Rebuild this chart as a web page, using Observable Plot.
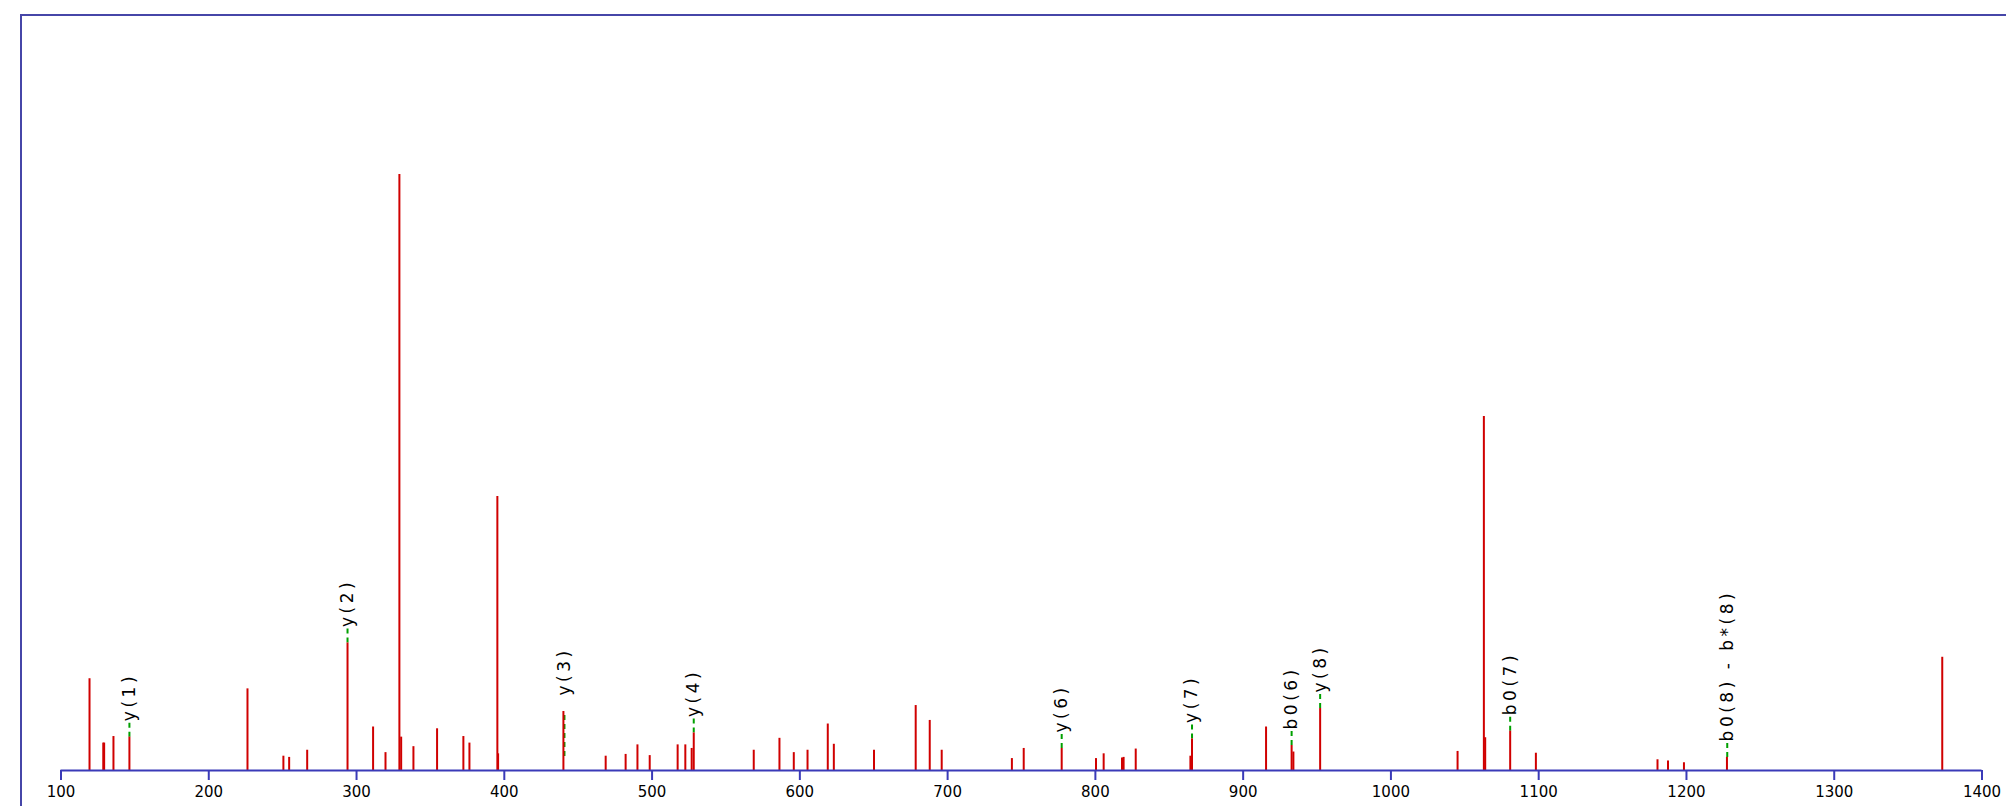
<!DOCTYPE html>
<html>
<head>
<meta charset="utf-8">
<script src="https://cdn.jsdelivr.net/npm/d3@7"></script>
<script src="https://cdn.jsdelivr.net/npm/@observablehq/plot@0.6"></script>
<style>
  html, body { margin: 0; padding: 0; background: #fff; }
  #wrap { position: relative; width: 2006px; height: 806px; overflow: hidden; }
  #frame { position: absolute; left: 20px; top: 14px; right: -4px; bottom: -4px;
           border-top: 2px solid #4646a8; border-left: 2px solid #4646a8; pointer-events: none; }
  #chart svg { display: block; }
</style>
</head>
<body>
<div id="wrap"><div id="chart"></div><div id="frame"></div></div>
<script>
// Observed peaks (m/z) and relative intensities (% of base peak)
const peakMz = [119.3, 128.6, 129.2, 135.5, 146.3, 226.2, 250.5, 254.4, 266.6, 293.9,
  311.2, 319.6, 329.0, 330.2, 338.5, 354.5, 372.3, 376.4, 395.3, 395.8,
  440.0, 468.6, 482.1, 490.1, 498.4, 517.3, 522.5, 526.8, 528.2, 568.8,
  586.2, 595.9, 605.2, 618.9, 623.0, 650.2, 678.4, 687.9, 696.0, 743.5,
  751.5, 777.2, 800.4, 805.6, 818.0, 819.1, 827.3, 864.3, 865.4, 915.5,
  932.8, 934.0, 952.1, 1045.1, 1062.9, 1063.8, 1080.7, 1098.1, 1180.4, 1187.5,
  1198.3, 1227.4, 1373.1];
const peakIntensity = [15.4, 4.6, 4.6, 5.7, 5.6, 13.7, 2.4, 2.2, 3.4, 21.4,
  7.3, 3.0, 100, 5.6, 4.0, 7.0, 5.7, 4.6, 46.0, 2.8,
  9.9, 2.4, 2.7, 4.3, 2.5, 4.3, 4.3, 3.7, 6.3, 3.4,
  5.4, 3.0, 3.4, 7.8, 4.4, 3.4, 10.9, 8.4, 3.4, 2.0,
  3.7, 3.7, 2.0, 2.8, 2.1, 2.2, 3.6, 2.4, 5.3, 7.3,
  4.2, 3.1, 10.4, 3.2, 59.4, 5.5, 6.6, 2.9, 1.8, 1.6,
  1.3, 2.2, 19.0];

// Annotated fragment ions (theoretical m/z, matched peak height, dashed-line start)
const ionLabel = ["y(1)", "y(2)", "y(3)", "y(4)", "y(6)", "y(7)", "b0(6)", "y(8)", "b0(7)", "b0(8) - b*(8)"];
const ionMz = [146.3, 293.9, 440.7, 528.2, 777.2, 865.4, 932.8, 952.1, 1080.7, 1227.6];
const ionIntensity = [5.6, 21.4, 9.9, 6.3, 3.7, 5.3, 4.2, 10.4, 6.6, 2.2];
const ionBase = [5.6, 21.4, 0, 6.3, 3.7, 5.3, 4.2, 10.4, 6.6, 2.2];

// Axis ticks
const tickValues = [100, 200, 300, 400, 500, 600, 700, 800, 900, 1000, 1100, 1200, 1300, 1400];

const peaks = peakMz.map((mz, i) => ({mz, intensity: peakIntensity[i]}));
const ions = ionMz.map((mz, i) => ({mz, intensity: ionIntensity[i], base: ionBase[i], label: ionLabel[i]}));

const blue = "#3a3ab8";
const chart = Plot.plot({
  width: 2006,
  height: 806,
  marginLeft: 60.5,
  marginRight: 24.5,
  marginTop: 15,
  marginBottom: 36,
  style: {fontFamily: "DejaVu Sans, sans-serif", background: "transparent", overflow: "visible"},
  x: {domain: [100, 1400], axis: null},
  y: {domain: [0, 126.7], axis: null},
  marks: [
    Plot.ruleX(ions, {x: "mz", y1: "base", y2: "intensity", insetTop: -14, stroke: "#00a000", strokeWidth: 2, strokeDasharray: "5,4"}),
    Plot.ruleX(peaks, {x: "mz", y1: 0, y2: "intensity", stroke: "#d00000", strokeWidth: 2}),
    Plot.ruleY([0], {stroke: blue, strokeWidth: 2}),
    Plot.axisX({ticks: tickValues, label: null, tickSize: 10, tickPadding: 6, stroke: blue, strokeWidth: 2, fill: "#000",
      fontSize: 15, tickFormat: d => String(d)}),
    Plot.text(ions, {x: "mz", y: "intensity", text: "label", rotate: -90, textAnchor: "start",
      dy: -16, fill: "#000", fontSize: 17})
  ]
});
d3.select(chart).selectAll("g[aria-label='text'] text").style("letter-spacing", "3.5px");
document.getElementById("chart").appendChild(chart);
</script>
</body>
</html>
